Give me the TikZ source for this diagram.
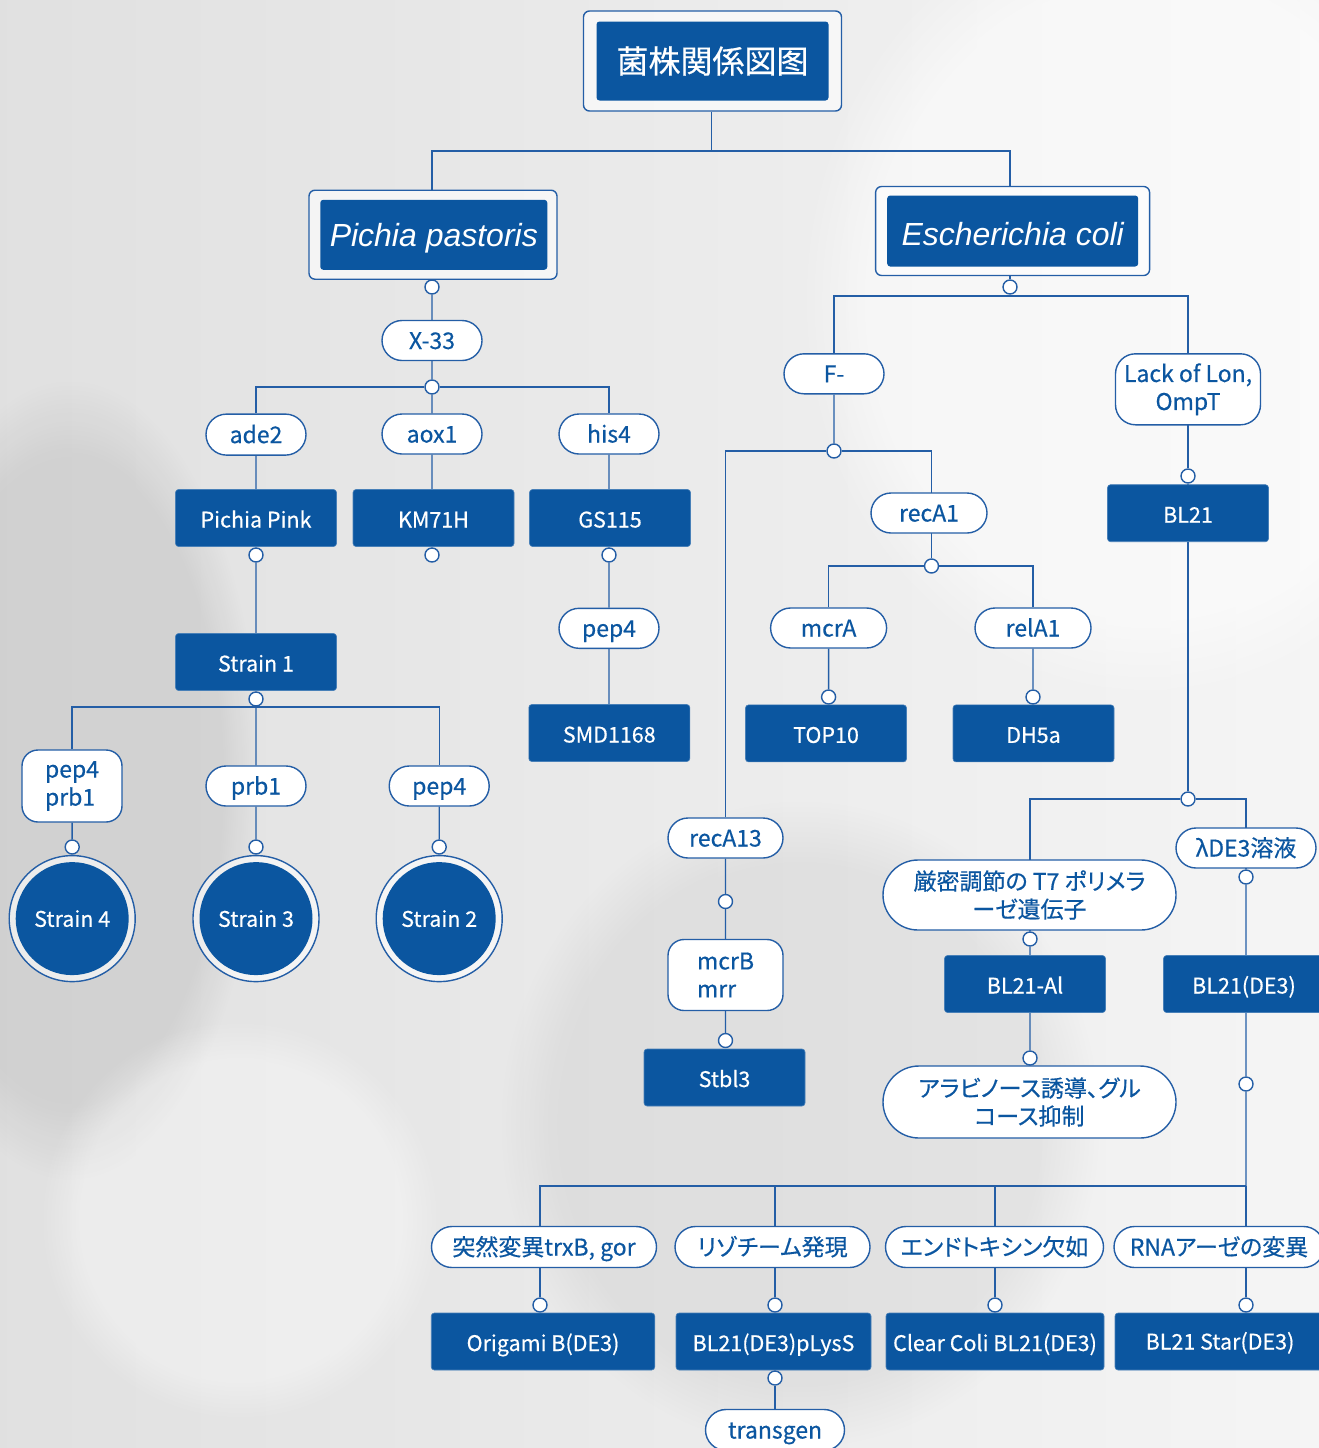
\documentclass[tikz,border=0pt]{standalone}
\usepackage{fontspec}
\setmainfont{Noto Sans CJK JP}[FakeBold=0.45,RawFeature=+palt]
\newfontfamily\arialf{Liberation Sans}
\usetikzlibrary{shapes.misc,fadings}
\definecolor{nblue}{RGB}{11,86,160}
\definecolor{lblue}{RGB}{36,94,166}
\pgfdeclarelayer{bgl}
\pgfdeclarelayer{edges}
\pgfsetlayers{bgl,edges,main}
\begin{document}
\begin{tikzpicture}[x=1pt,y=-1pt,
  conn/.style={draw=lblue,line width=1.4pt},
  fbox/.style={rectangle,rounded corners=3pt,fill=nblue,draw=nblue!75!white,line width=0.6pt,text=white,
     font=\fontsize{21.5}{26}\selectfont,minimum width=161pt,minimum height=57pt,inner sep=0pt,
     text height=19pt,text depth=0pt},
  pill/.style={rounded rectangle,draw=lblue,line width=1.4pt,fill=white,text=nblue,
     font=\fontsize{23}{28}\selectfont,minimum height=40pt,inner sep=0pt,align=center},
  pill1/.style={pill,text height=17pt,text depth=0pt},
  rbox/.style={rectangle,rounded corners=16pt,draw=lblue,line width=1.4pt,fill=white,text=nblue,
     font=\fontsize{23}{28}\selectfont,inner sep=0pt},
  cdot/.style={circle,draw=lblue,line width=1.4pt,fill=white,minimum size=14pt,inner sep=0pt},
  frm/.style={rectangle,rounded corners=6pt,draw=lblue,line width=1.4pt,fill=white,fill opacity=0.6},
  ring/.style={circle,draw=lblue,line width=1.4pt,fill=white,fill opacity=0.6,minimum size=126pt,inner sep=0pt},
  disc/.style={circle,fill=nblue,text=white,minimum size=113pt,inner sep=0pt,font=\fontsize{21.5}{26}\selectfont},
  head/.style={rectangle,rounded corners=3pt,fill=nblue,text=white,inner sep=0pt},
  htxt/.style={text=white,inner sep=0pt,font=\arialf\itshape\fontsize{32}{36}\selectfont}
]
\useasboundingbox (0,0) rectangle (1319,1448);
\begin{pgfonlayer}{bgl}
  \shade[left color=gray!24,right color=gray!8] (0,0) rectangle (1319,1448);
  \fill[black,opacity=0.07,path fading=circle with fuzzy edge 20 percent] (-120,380) rectangle (260,1180);
  \fill[white,opacity=0.5,path fading=circle with fuzzy edge 20 percent] (800,-100) rectangle (1500,700);
  \fill[white,opacity=0.35,path fading=circle with fuzzy edge 20 percent] (40,1020) rectangle (440,1420);
  \fill[black,opacity=0.05,path fading=circle with fuzzy edge 20 percent] (500,800) rectangle (1100,1448);
\end{pgfonlayer}

% ---------- top ----------
\node[frm,minimum width=258pt,minimum height=100pt] (tout) at (712.5,61) {};
\node[head,minimum width=232pt,minimum height=79pt,font=\fontsize{32}{36}\selectfont] (tin) at (712.5,61) {菌株関係図图};
\coordinate (j0) at (711.5,151);

\node[frm,minimum width=248pt,minimum height=89pt] (pout) at (433,234.7) {};
\node[head,minimum width=227pt,minimum height=70pt] (pin) at (433.8,234.8) {};
\node[htxt] (pint) at ([yshift=-3pt]pin.center) {Pichia pastoris};
\node[frm,minimum width=274pt,minimum height=89pt] (eout) at (1012.6,231) {};
\node[head,minimum width=251pt,minimum height=71pt] (ein) at (1012.7,231) {};
\node[htxt] (eint) at ([yshift=-3pt]ein.center) {Escherichia coli};

% ---------- Pichia branch ----------
\node[pill1,minimum width=100pt] (x33) at (432,340.5) {X-33};
\node[pill1,minimum width=100pt,minimum height=41pt] (ade2) at (256,434.6) {ade2};
\node[pill1,minimum width=100pt] (aox1) at (432,434) {aox1};
\node[pill1,minimum width=100pt] (his4) at (609,434) {his4};
\node[fbox] (ppink) at (256,518) {Pichia Pink};
\node[fbox] (km71h) at (433.5,518) {KM71H};
\node[fbox] (gs115) at (610,518) {GS115};
\node[fbox] (strain1) at (256,662) {Strain 1};
\coordinate (s1j) at (256,707);
\node[rbox,minimum width=100pt,minimum height=72pt,align=left] (pp41) at (72,786) {pep4\\prb1};
\node[pill1,minimum width=100pt] (prb1) at (256,786) {prb1};
\node[pill1,minimum width=100pt] (pep4c) at (439.2,786) {pep4};
\node[ring] (r4) at (72.2,918.6) {};
\node[disc] (st4) at (72.2,918.6) {Strain 4};
\node[ring] (r3) at (256,918.6) {};
\node[disc] (st3) at (256,918.6) {Strain 3};
\node[ring] (r2) at (439.2,918.6) {};
\node[disc] (st2) at (439.2,918.6) {Strain 2};
\node[pill1,minimum width=100pt] (pep4b) at (609,628.3) {pep4};
\node[fbox] (smd) at (609.3,733) {SMD1168};

% ---------- E. coli branch ----------
\coordinate (ej) at (1010,296);
\node[pill1,minimum width=100pt] (fm) at (834,373.8) {F-};
\node[rbox,rounded corners=20pt,minimum width=145pt,minimum height=71pt,align=center] (lack) at (1188,389.3) {Lack of Lon,\\OmpT};
\node[pill1,minimum width=116pt] (reca1) at (929,513) {recA1};
\node[fbox] (bl21) at (1188,513.2) {BL21};
\node[pill1,minimum width=116pt] (mcra) at (828.6,628) {mcrA};
\node[pill1,minimum width=116pt] (rela1) at (1033,628) {relA1};
\node[fbox] (top10) at (826,733.4) {TOP10};
\node[fbox] (dh5a) at (1033.5,733.4) {DH5a};
\node[pill1,minimum width=115pt] (reca13) at (725.5,838) {recA13};
\node[rbox,minimum width=115pt,minimum height=71pt,align=left] (mcrb) at (725.5,975) {mcrB\\mrr};
\node[fbox] (stbl3) at (724.5,1077.5) {Stbl3};
\node[pill,minimum width=293pt,minimum height=70pt] (t7) at (1029.5,895) {厳密調節の T7 ポリメラ\\ーゼ遺伝子};
\node[pill1,minimum width=140pt] (lde3) at (1246,848) {λDE3溶液};
\node[fbox] (bl21al) at (1025,984) {BL21-Al};
\node[fbox] (bde3) at (1244,984) {BL21(DE3)};
\node[pill,minimum width=293pt,minimum height=72pt] (arab) at (1029.5,1102) {アラビノース誘導、グル\\コース抑制};
\coordinate (bj) at (1246,1186);
\node[pill1,minimum width=225pt,minimum height=41pt] (trx) at (544,1247) {突然変異trxB, gor};
\node[pill1,minimum width=195pt,minimum height=41pt] (lyso) at (772.5,1247) {リゾチーム発現};
\node[pill1,minimum width=218pt,minimum height=41pt] (endo) at (994.5,1247) {エンドトキシン欠如};
\node[pill1,minimum width=210pt,minimum height=41pt] (rna) at (1219,1247) {RNAアーゼの変異};
\node[fbox,minimum width=223.5pt] (origami) at (543,1341.5) {Origami B(DE3)};
\node[fbox,minimum width=195pt] (plyss) at (773.5,1341.5) {BL21(DE3)pLysS};
\node[fbox,minimum width=218pt] (clear) at (995,1341.5) {Clear Coli BL21(DE3)};
\node[fbox,minimum width=210pt,text height=16pt,text depth=0pt] (star) at (1220,1341.5) {BL21 Star(DE3)};
\node[pill1,minimum width=139pt,minimum height=41pt] (transgen) at (775,1430) {transgen};

% ---------- dots ----------
\node[cdot] (pd) at (432,287) {};
\node[cdot] (xd) at (432,387) {};
\node[cdot] (ppd) at (256,555) {};
\node[cdot] (kmd) at (432,555) {};
\node[cdot] (gsd) at (609,555) {};
\node[cdot] (s1d) at (256,699) {};
\node[cdot] (d4) at (72.2,847) {};
\node[cdot] (d3) at (256,847) {};
\node[cdot] (d2) at (439.2,847) {};
\node[cdot] (ed) at (1010,287) {};
\node[cdot] (fd) at (834,451) {};
\node[cdot] (lackd) at (1188,476) {};
\node[cdot] (rd) at (931.5,566) {};
\node[cdot] (topd) at (828.6,697) {};
\node[cdot] (dhd) at (1033,697) {};
\node[cdot] (r13d) at (725.5,901.5) {};
\node[cdot] (mcrbd) at (725.5,1040.5) {};
\node[cdot] (bd) at (1188,799) {};
\node[cdot] (t7d) at (1030,939) {};
\node[cdot] (ald) at (1030,1058) {};
\node[cdot] (ld) at (1246,877) {};
\node[cdot] (bde3d) at (1246,1084) {};
\node[cdot] (od) at (540,1305) {};
\node[cdot] (lyd) at (775,1305) {};
\node[cdot] (ctd) at (995,1305) {};
\node[cdot] (sd) at (1246,1305) {};
\node[cdot] (transd) at (775,1378) {};

% ---------- connectors ----------
\begin{pgfonlayer}{edges}
  \draw[conn] (tout.south -| j0) -- (j0);
  \draw[conn] (pout.north -| pd) |- (j0) -| (eout.north -| ed);
  % Pichia
  \draw[conn] (pout.south -| pd) -- (pd) -- (x33) -- (xd) -- (aox1) -- (kmd);
  \draw[conn] (ade2) |- (xd) -| (his4);
  \draw[conn] (ade2) -- (ppd) -- (strain1) -- (s1d) -- (s1j);
  \draw[conn] (his4) -- (gsd) -- (pep4b) -- (pep4b |- smd.north);
  \draw[conn] (pp41) |- (s1j) -| (pep4c);
  \draw[conn] (s1j) -- (prb1) -- (d3);
  \draw[conn] (pp41) -- (d4);
  \draw[conn] (pep4c) -- (d2);
  % E. coli
  \draw[conn] (eout.south -| ed) -- (ed) -- (ej);
  \draw[conn] (fm) |- (ej) -| (lackd);
  \draw[conn] (lack) -- (lackd) -- (bl21) -- (bd);
  \draw[conn] (fm) -- (fd);
  \draw[conn] (reca13) |- (fd) -| (rd);
  \draw[conn] (rd) -- (reca1 -| rd);
  \draw[conn] (mcra) |- (rd) -| (rela1);
  \draw[conn] (mcra) -- (topd);
  \draw[conn] (rela1) -- (dhd);
  \draw[conn] (reca13) -- (r13d) -- (mcrb) -- (mcrbd);
  \draw[conn] (t7d) |- (bd) -| (ld);
  \draw[conn] (t7) -- (t7d) -- (ald) -- (arab);
  \draw[conn] (lde3) -- (ld) -- (bde3d) -- (bj);
  \draw[conn] (od) |- (bj);
  \draw[conn] (lyd) |- (bj);
  \draw[conn] (ctd) |- (bj);
  \draw[conn] (bj) -- (sd);
  \draw[conn] (transd) -- (transgen);
\end{pgfonlayer}
\end{tikzpicture}
\end{document}
